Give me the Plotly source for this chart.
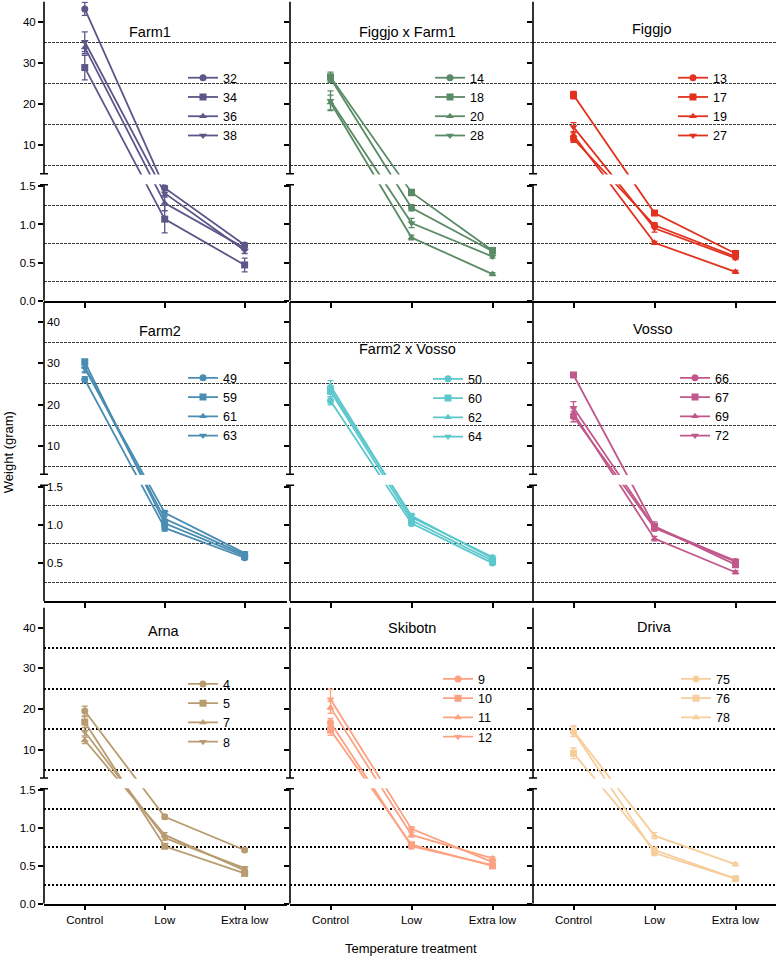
import plotly.graph_objects as go

W, H = 777, 963
FONT = "Liberation Sans, Arial, Helvetica, sans-serif"

# ---------------- data ----------------
categories = ["Control", "Low", "Extra low"]
panel_titles = ["Farm1", "Figgjo x Farm1", "Figgjo",
                "Farm2", "Farm2 x Vosso", "Vosso",
                "Arna", "Skibotn", "Driva"]
panel_colors = ["#5b5789", "#5a8b66", "#e2321f",
                "#4a8db2", "#5cc7cc", "#c2578b",
                "#b89c70", "#fca282", "#f7cd9b"]
symbols = ["circle", "square", "triangle-up", "triangle-down"]

ids_farm1 = ["32", "34", "36", "38"]
mean_farm1 = [[43.2, 1.48, 0.73], [28.9, 1.07, 0.47], [33.8, 1.28, 0.69], [35.2, 1.41, 0.66]]
sem_farm1 = [[1.6, 0.03, 0.03], [3.0, 0.18, 0.09], [1.5, 0.10, 0.03], [2.4, 0.05, 0.04]]

ids_fxf1 = ["14", "18", "20", "28"]
mean_fxf1 = [[26.3, 1.22, 0.65], [26.6, 1.42, 0.66], [20.4, 0.83, 0.35], [20.8, 1.02, 0.58]]
sem_fxf1 = [[1.0, 0.04, 0.02], [1.2, 0.04, 0.02], [1.8, 0.03, 0.02], [2.4, 0.06, 0.02]]

ids_figgjo = ["13", "17", "19", "27"]
mean_figgjo = [[11.5, 0.99, 0.58], [22.2, 1.15, 0.62], [12.4, 0.76, 0.38], [14.4, 0.95, 0.56]]
sem_figgjo = [[0.8, 0.03, 0.02], [0.9, 0.03, 0.02], [0.6, 0.02, 0.02], [1.1, 0.05, 0.02]]

ids_farm2 = ["49", "59", "61", "63"]
mean_farm2 = [[26.1, 0.96, 0.57], [30.4, 1.02, 0.59], [29.2, 1.08, 0.61], [28.8, 1.16, 0.63]]
sem_farm2 = [[0.7, 0.04, 0.02], [0.6, 0.03, 0.02], [1.5, 0.03, 0.02], [0.8, 0.03, 0.02]]

ids_f2xv = ["50", "60", "62", "64"]
mean_f2xv = [[20.9, 1.02, 0.50], [23.2, 1.06, 0.53], [24.6, 1.10, 0.58], [23.7, 1.12, 0.56]]
sem_f2xv = [[1.0, 0.03, 0.02], [1.3, 0.03, 0.02], [1.2, 0.03, 0.02], [0.9, 0.03, 0.02]]

ids_vosso = ["66", "67", "69", "72"]
mean_vosso = [[17.1, 0.96, 0.52], [27.2, 0.98, 0.48], [17.9, 0.82, 0.38], [19.2, 0.97, 0.53]]
sem_vosso = [[1.3, 0.03, 0.02], [0.5, 0.06, 0.04], [1.2, 0.03, 0.02], [1.5, 0.03, 0.02]]

ids_arna = ["4", "5", "7", "8"]
mean_arna = [[19.5, 1.15, 0.71], [16.8, 0.76, 0.40], [12.3, 0.91, 0.44], [14.4, 0.87, 0.47]]
sem_arna = [[1.2, 0.03, 0.02], [1.3, 0.02, 0.02], [0.8, 0.03, 0.02], [1.0, 0.03, 0.02]]

ids_skibotn = ["9", "10", "11", "12"]
mean_skibotn = [[16.7, 0.76, 0.51], [14.8, 0.78, 0.50], [20.4, 0.91, 0.60], [22.4, 0.99, 0.55]]
sem_skibotn = [[1.0, 0.03, 0.02], [1.3, 0.03, 0.02], [1.5, 0.03, 0.02], [2.5, 0.03, 0.02]]

ids_driva = ["75", "76", "78"]
mean_driva = [[14.4, 0.67, 0.33], [9.1, 0.71, 0.33], [14.6, 0.90, 0.52]]
sem_driva = [[1.2, 0.03, 0.02], [1.3, 0.03, 0.02], [1.3, 0.04, 0.02]]

panel_ids = [ids_farm1, ids_fxf1, ids_figgjo, ids_farm2, ids_f2xv, ids_vosso,
             ids_arna, ids_skibotn, ids_driva]
panel_means = [mean_farm1, mean_fxf1, mean_figgjo, mean_farm2, mean_f2xv, mean_vosso,
               mean_arna, mean_skibotn, mean_driva]
panel_sems = [sem_farm1, sem_fxf1, sem_figgjo, sem_farm2, sem_f2xv, sem_vosso,
              sem_arna, sem_skibotn, sem_driva]

upper_ticks = [10, 20, 30, 40]
lower_ticks = [0.0, 0.5, 1.0, 1.5]
upper_grid = [5, 15, 25, 35]
lower_grid = [0.25, 0.75, 1.25]

# ---------------- broken-axis scale ----------------
LOW_MAX = 1.52
UP_MIN, UP_MAX = 3.0, 45.0
S_LOW = 76.8      # scale units per gram, lower segment
S_UP = 4.13       # scale units per gram, upper segment
GAP = 11.0
LOW_TOP = LOW_MAX * S_LOW
UP_BOT = LOW_TOP + GAP
TOTAL = UP_BOT + (UP_MAX - UP_MIN) * S_UP


def bscale(v):
    if v <= LOW_MAX:
        return v * S_LOW
    return UP_BOT + (v - UP_MIN) * S_UP


def bslope(v):
    return S_LOW if v <= LOW_MAX else S_UP


# ---------------- layout geometry (pixels) ----------------
col_px = [(44, 287), (290, 533), (533, 776)]
col_range = [(-0.51, 2.53), (-0.5, 2.5), (-0.5, 2.5)]
row_px = [(1.5, 302.7), (303.8, 605.0), (611.3, 909.3)]
title_pos = [(150, 32), (407, 32), (652, 29),
             (160, 333), (408, 351), (653, 331),
             (164, 635), (412, 632), (654, 631)]
legend_pos = [(223, 77), (470, 77), (713, 77),
              (223, 379), (468, 380), (715, 379),
              (223, 687), (478, 682), (716, 682)]

fig = go.Figure()
layout = dict(width=W, height=H, margin=dict(l=0, r=0, t=0, b=0),
              plot_bgcolor="white", paper_bgcolor="white",
              font=dict(family=FONT, color="black"), showlegend=True)
shapes_band, shapes_axis, annotations = [], [], []

for i in range(9):
    r, c = divmod(i, 3)
    n = i + 1
    xn = "x" if n == 1 else f"x{n}"
    yn = "y" if n == 1 else f"y{n}"
    xk = "xaxis" if n == 1 else f"xaxis{n}"
    yk = "yaxis" if n == 1 else f"yaxis{n}"
    lk = "legend" if n == 1 else f"legend{n}"
    top, bot = row_px[r]
    x0p, x1p = col_px[c]

    layout[xk] = dict(domain=[x0p / W, x1p / W], range=list(col_range[c]),
                      anchor=yn, showline=True, linecolor="black", linewidth=1.6,
                      ticks="outside", ticklen=5, tickwidth=1.5, tickcolor="black",
                      tickvals=[0, 1, 2], ticktext=categories,
                      showticklabels=(r == 2), showgrid=False, zeroline=False,
                      tickfont=dict(size=11.5, family=FONT, color="black"))
    if r == 1:
        tv = [bscale(v) for v in lower_ticks[1:]] + [bscale(v) for v in upper_ticks]
        tt = [f"{v:.1f}" for v in lower_ticks[1:]] + [str(v) for v in upper_ticks]
    else:
        tv = [bscale(v) for v in lower_ticks] + [bscale(v) for v in upper_ticks]
        tt = [f"{v:.1f}" for v in lower_ticks] + [str(v) for v in upper_ticks]
    if r == 2:
        minor = dict(tickmode="array",
                     tickvals=[bscale(v) for v in lower_grid + upper_grid],
                     showgrid=True, gridcolor="black", gridwidth=1.8,
                     griddash="2px,2px", ticks="")
    else:
        minor = dict(tickmode="array",
                     tickvals=[bscale(v) for v in lower_grid + upper_grid],
                     showgrid=True, gridcolor="#3a3a3a", gridwidth=1,
                     griddash="3px,1px", ticks="")
    layout[yk] = dict(domain=[1 - bot / H, 1 - top / H], range=[0, TOTAL],
                      anchor=xn, showline=False, showgrid=False, zeroline=False,
                      ticks="outside", ticklen=5, tickwidth=1.5, tickcolor="black",
                      tickvals=tv, ticktext=tt, showticklabels=(c == 0),
                      ticklabelposition=("inside" if r == 1 else "outside"),
                      tickfont=dict(size=11.5, family=FONT, color="black"),
                      minor=minor)

    col = panel_colors[i]
    for k, (sid, mvals, svals) in enumerate(zip(panel_ids[i], panel_means[i], panel_sems[i])):
        fig.add_trace(go.Scatter(
            x=[0, 1, 2], y=[bscale(v) for v in mvals],
            error_y=dict(type="data", array=[e * bslope(v) for v, e in zip(mvals, svals)],
                         color=col, thickness=1.3, width=3),
            mode="lines+markers", name=sid,
            line=dict(color=col, width=1.8),
            marker=dict(symbol=symbols[k], size=7, color=col),
            xaxis=xn, yaxis=yn, legend=lk, cliponaxis=False))

    lx, ly = legend_pos[i]
    layout[lk] = dict(x=(lx - 40) / W, y=1 - (ly - 13.5) / H, xanchor="left", yanchor="top",
                      bgcolor="rgba(0,0,0,0)", borderwidth=0, itemwidth=30,
                      font=dict(size=12.5, family=FONT, color="black"),
                      tracegroupgap=0)

    # white band hiding the axis break (leaves room for inside tick labels)
    shapes_band.append(dict(type="rect", xref=f"{xn} domain", yref=yn, x0=0.12, x1=1,
                            y0=LOW_TOP + 0.6, y1=UP_BOT - 0.6, fillcolor="white",
                            line=dict(width=0), layer="above"))
    # broken y axis line
    for y0, y1 in [(0, LOW_TOP), (UP_BOT, TOTAL)]:
        shapes_axis.append(dict(type="line", xref=f"{xn} domain", yref=yn,
                                x0=0, x1=0, y0=y0, y1=y1,
                                line=dict(color="black", width=1.6), layer="above"))
    for yb in [LOW_TOP, UP_BOT]:
        shapes_axis.append(dict(type="line", xref=f"{xn} domain", yref=yn,
                                xsizemode="pixel", xanchor=0, x0=-4, x1=4, y0=yb, y1=yb,
                                line=dict(color="black", width=1.5), layer="above"))

    tx, ty = title_pos[i]
    annotations.append(dict(text=panel_titles[i], x=tx / W, y=1 - ty / H, xref="paper",
                            yref="paper", showarrow=False, xanchor="center", yanchor="middle",
                            font=dict(size=14.5, family=FONT, color="black")))

annotations.append(dict(text="Weight (gram)", x=8 / W, y=1 - 455 / H, xref="paper", yref="paper",
                        showarrow=False, textangle=-90, xanchor="center", yanchor="middle",
                        font=dict(size=13, family=FONT, color="black")))
annotations.append(dict(text="Temperature treatment", x=411 / W, y=1 - 954 / H, xref="paper",
                        yref="paper", showarrow=False, xanchor="center", yanchor="middle",
                        font=dict(size=13, family=FONT, color="black")))

layout["shapes"] = shapes_band + shapes_axis
layout["annotations"] = annotations
fig.update_layout(**layout)
fig.write_html("out.html", config={"displayModeBar": False},
               post_script="document.body.style.margin='0px';")
